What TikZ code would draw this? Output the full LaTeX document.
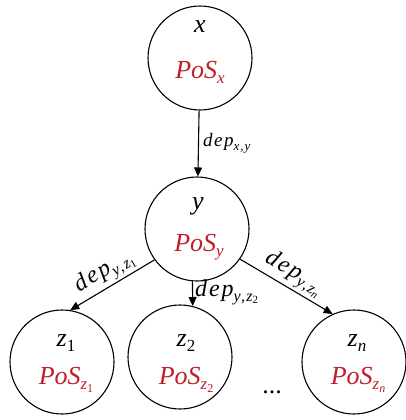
\documentclass[tikz,border=0pt]{standalone}
\usepackage{fontspec}
\setmainfont{Liberation Serif}
\newfontfamily\lblfont[LetterSpace=8]{Liberation Serif}
\usetikzlibrary{arrows.meta}
\definecolor{posred}{RGB}{190,30,40}
\newcommand{\nsub}[1]{\raisebox{-5pt}{\fontsize{17}{17}\selectfont #1}}
\newcommand{\nssub}[1]{\raisebox{-3pt}{\fontsize{12}{12}\selectfont #1}}
\newcommand{\tsub}[1]{\raisebox{-4pt}{\fontsize{13}{13}\selectfont #1}}
\newcommand{\lsub}[1]{\raisebox{-4.5pt}{\fontsize{16}{16}\selectfont #1}}
\newcommand{\lssub}[1]{\raisebox{-2.5pt}{\fontsize{11}{11}\selectfont #1}}
\begin{document}
\begin{tikzpicture}[x=1pt,y=-1pt,
  word/.style={circle,draw,line width=1.1pt,minimum size=104pt,inner sep=0pt},
  dep/.style={-{Triangle[length=9pt,width=8pt]},line width=1.1pt},
  lbl/.style={font=\fontsize{24}{24}\lblfont\itshape,inner sep=1pt},
  tlbl/.style={font=\fontsize{19}{19}\lblfont\itshape,inner sep=1pt},
  nm/.style={font=\fontsize{26}{26}\selectfont\itshape},
  ps/.style={font=\fontsize{26}{26}\selectfont\itshape,text=posred}]
\useasboundingbox (0,0) rectangle (406,420);
\node[word] (x) at (200,58) {};
\node[word] (y) at (197,229) {};
\node[word] (z1) at (62,362) {};
\node[word] (z2) at (180,357) {};
\node[word] (zn) at (354,362) {};
\node[nm] (tx) at (200,27) {x};
\node[ps] (px) at (200,72) {PoS\nsub{x}};
\node[nm] (ty) at (198,206) {y};
\node[ps] (py) at (199,247) {PoS\nsub{y}};
\node[nm] (t1) at (66,343) {z\nsub{\upshape 1}};
\node[ps] (p1) at (66,380) {PoS\nsub{z\nssub{\upshape 1}}};
\node[nm] (t2) at (186,343) {z\nsub{\upshape 2}};
\node[ps] (p2) at (186,380) {PoS\nsub{z\nssub{\upshape 2}}};
\node[nm] (tn) at (357,343) {z\nsub{n}};
\node[ps] (pn) at (358,380) {PoS\nsub{z\nssub{n}}};
\node[nm,font=\fontsize{26}{26}\selectfont\upshape] (dots) at (272,392) {...};
\draw[dep] (x) -- (y) node[tlbl,midway,right=3pt] (l1) {dep\tsub{x,y}};
\draw[dep] (y.216) -- (z1.81) node[lbl,midway,sloped,above=1pt] (l2) {dep\lsub{y,z\lssub{\upshape 1}}};
\draw[dep] (y.-95) -- (z2.76) node[lbl,pos=0.45,right=1pt] (l3) {dep\lsub{y,z\lssub{\upshape 2}}};
\draw[dep] (y.-35) -- (zn.114) node[lbl,midway,sloped,above=1pt] (l4) {dep\lsub{y,z\lssub{n}}};
\end{tikzpicture}
\end{document}
